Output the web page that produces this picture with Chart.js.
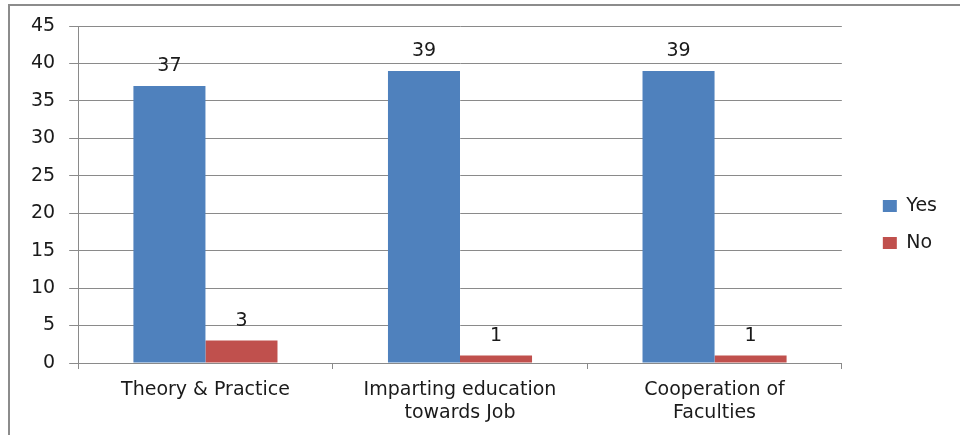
<!DOCTYPE html>
<html>
<head>
<meta charset="utf-8">
<script src="https://cdn.jsdelivr.net/npm/chart.js@4/dist/chart.umd.min.js"></script>
<style>
    html, body { margin: 0; padding: 0; background: #fff; overflow: hidden; }
    #frame {
        position: absolute; left: 8px; top: 4px; width: 1000px; height: 500px;
        border-left: 2px solid #8c8c8c; border-top: 2px solid #8c8c8c;
    }
    #wrap { position: absolute; left: 0; top: 0; width: 960px; height: 435px; }
</style>
</head>
<body>
<div id="frame"></div>
<div id="wrap"><canvas id="chart"></canvas></div>
<script>
const categories = [
    'Theory & Practice',
    ['Imparting education', 'towards Job'],
    ['Cooperation of', 'Faculties']
];
const yesValues = [37, 39, 39];
const noValues = [3, 1, 1];
const yTicks = { min: 0, max: 45, step: 5 };

const colors = {
    blue: '#4f81bd',
    red: '#c0504d',
    grid: '#8a8a8a',
    text: '#1a1a1a'
};
const font = { family: '"DejaVu Sans", Verdana, sans-serif', size: 19 };

// value labels above each bar
const valueLabels = {
    id: 'valueLabels',
    afterDatasetsDraw(chart) {
        const ctx = chart.ctx;
        ctx.save();
        ctx.font = `${font.size}px ${font.family}`;
        ctx.fillStyle = colors.text;
        ctx.textAlign = 'center';
        ctx.textBaseline = 'alphabetic';
        chart.data.datasets.forEach((ds, i) => {
            chart.getDatasetMeta(i).data.forEach((bar, j) => {
                ctx.fillText(ds.data[j], bar.x, bar.y - 15);
            });
        });
        ctx.restore();
    }
};

new Chart(document.getElementById('chart'), {
    type: 'bar',
    data: {
        labels: categories,
        datasets: [
            { label: 'Yes', data: yesValues, backgroundColor: colors.blue, borderWidth: 0 },
            { label: 'No', data: noValues, backgroundColor: colors.red, borderWidth: 0 }
        ]
    },
    options: {
        responsive: true,
        maintainAspectRatio: false,
        animation: false,
        layout: { padding: { left: 17, right: 13, top: 26, bottom: 12 } },
        datasets: { bar: { categoryPercentage: 0.566, barPercentage: 1 } },
        plugins: {
            legend: {
                position: 'right',
                labels: {
                    boxWidth: 14,
                    boxHeight: 12,
                    padding: 18,
                    color: colors.text,
                    font: font
                }
            },
            tooltip: { enabled: false }
        },
        scales: {
            x: {
                grid: { drawOnChartArea: false, drawTicks: true, tickLength: 6, color: colors.grid },
                border: { color: colors.grid, width: 1 },
                ticks: { color: colors.text, font: font, padding: 10, maxRotation: 0 },
                afterFit: scale => { scale.height = 60; }
            },
            y: {
                min: yTicks.min,
                max: yTicks.max,
                grid: { color: colors.grid, tickLength: 9 },
                border: { color: colors.grid, width: 1 },
                ticks: { stepSize: yTicks.step, color: colors.text, font: font, padding: 14 }
            },
            // empty axis: gap between the plot and the legend
            gap: {
                position: 'right',
                grid: { display: false },
                border: { display: false },
                ticks: { display: false },
                afterFit: scale => { scale.width = 23; }
            }
        }
    },
    plugins: [valueLabels]
});
</script>
</body>
</html>
